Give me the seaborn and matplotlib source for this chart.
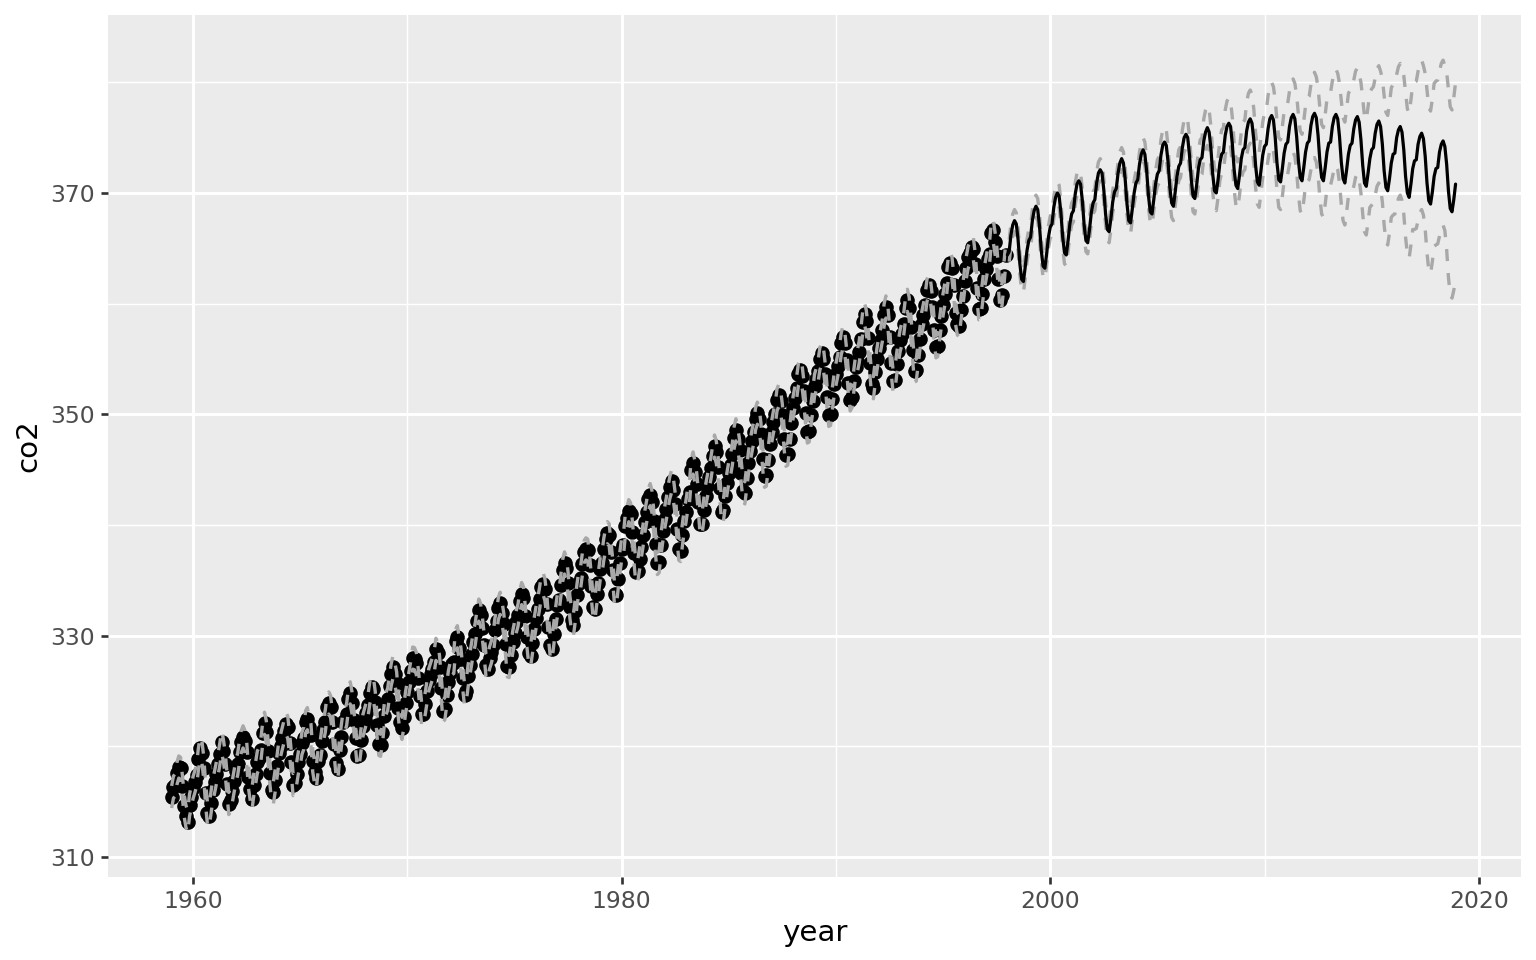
import numpy as np
import pandas as pd
import matplotlib
matplotlib.use("Agg")
import matplotlib.pyplot as plt
import seaborn as sns
from matplotlib.ticker import FixedLocator

# ---------------- data ----------------
obs_start_year = 1959   # monthly observations, Jan 1959 ...
fc_start_year = 1998    # monthly forecast, Jan 1998 ...

co2_obs = [
    315.42, 316.31, 316.50, 317.56, 318.13, 318.00, 316.39, 314.65, 313.68, 313.18, 314.66, 315.43,
    316.27, 316.81, 317.42, 318.87, 319.87, 319.43, 318.01, 315.74, 314.00, 313.68, 314.84, 316.03,
    316.73, 317.54, 318.38, 319.31, 320.42, 319.61, 318.42, 316.63, 314.83, 315.16, 315.94, 316.85,
    317.78, 318.40, 319.53, 320.42, 320.85, 320.45, 319.45, 317.25, 316.11, 315.27, 316.53, 317.53,
    318.58, 318.92, 319.70, 321.22, 322.08, 321.31, 319.58, 317.61, 316.05, 315.83, 316.91, 318.20,
    319.41, 320.07, 320.74, 321.40, 322.06, 321.73, 320.27, 318.54, 316.54, 316.71, 317.53, 318.55,
    319.27, 320.28, 320.73, 322.20, 322.50, 321.71, 321.05, 318.71, 317.66, 317.14, 318.70, 319.25,
    320.46, 321.43, 322.23, 323.54, 323.91, 323.59, 322.24, 320.20, 318.48, 317.94, 319.63, 320.87,
    322.17, 322.34, 322.88, 324.25, 324.83, 323.93, 322.38, 320.76, 319.10, 319.24, 320.56, 321.80,
    322.40, 322.99, 323.73, 324.86, 325.40, 325.20, 323.98, 321.95, 320.18, 320.09, 321.16, 322.74,
    323.83, 324.26, 325.47, 326.50, 327.21, 326.54, 325.72, 323.50, 322.22, 321.62, 322.69, 323.95,
    324.89, 325.82, 326.77, 327.97, 327.91, 327.50, 326.18, 324.53, 322.93, 322.90, 323.85, 324.96,
    326.01, 326.51, 327.01, 327.62, 328.76, 328.40, 327.20, 325.27, 323.20, 323.40, 324.63, 325.85,
    326.60, 327.47, 327.58, 329.56, 329.90, 328.92, 327.88, 326.16, 324.68, 325.04, 326.34, 327.39,
    328.37, 329.40, 330.14, 331.33, 332.31, 331.90, 330.70, 329.15, 327.35, 327.02, 327.99, 328.48,
    329.18, 330.55, 331.32, 332.48, 332.92, 332.08, 331.01, 329.23, 327.27, 327.21, 328.29, 329.41,
    330.23, 331.25, 331.87, 333.14, 333.80, 333.43, 331.73, 329.90, 328.40, 328.17, 329.32, 330.59,
    331.58, 332.39, 333.33, 334.41, 334.71, 334.17, 332.89, 330.77, 329.14, 328.78, 330.14, 331.52,
    332.75, 333.24, 334.53, 335.90, 336.57, 336.10, 334.76, 332.59, 331.42, 330.98, 332.24, 333.68,
    334.80, 335.22, 336.47, 337.59, 337.84, 337.72, 336.37, 334.51, 332.60, 332.38, 333.75, 334.78,
    336.05, 336.59, 337.79, 338.71, 339.30, 339.12, 337.56, 335.92, 333.75, 333.70, 335.12, 336.56,
    337.84, 338.19, 339.91, 340.60, 341.29, 341.00, 339.39, 337.43, 335.72, 335.84, 336.93, 338.04,
    339.06, 340.30, 341.21, 342.33, 342.74, 342.08, 340.32, 338.26, 336.52, 336.68, 338.19, 339.44,
    340.57, 341.44, 342.53, 343.39, 343.96, 343.18, 341.88, 339.65, 337.81, 337.69, 339.09, 340.32,
    341.20, 342.35, 343.01, 345.00, 345.60, 344.81, 343.74, 342.08, 340.08, 340.11, 341.33, 342.61,
    343.49, 344.29, 345.12, 346.21, 347.13, 346.59, 345.20, 343.34, 341.16, 341.34, 342.62, 343.76,
    344.72, 345.46, 346.40, 347.90, 348.60, 347.81, 346.73, 344.74, 343.11, 342.90, 344.21, 345.59,
    346.70, 347.60, 348.40, 349.60, 350.10, 349.60, 348.20, 346.00, 344.40, 344.50, 345.90, 347.30,
    348.40, 349.30, 350.00, 351.30, 351.70, 351.20, 349.90, 347.80, 346.30, 346.40, 347.80, 349.20,
    350.60, 351.50, 352.40, 353.60, 354.00, 353.50, 352.10, 350.10, 348.40, 348.50, 349.90, 351.20,
    352.60, 353.20, 353.90, 355.00, 355.50, 355.00, 353.60, 351.60, 349.90, 350.00, 351.40, 352.70,
    353.60, 354.40, 355.20, 356.40, 357.00, 356.40, 354.90, 352.80, 351.30, 351.60, 353.00, 354.30,
    354.80, 355.60, 356.80, 358.30, 359.10, 358.40, 356.90, 354.60, 352.70, 352.40, 353.80, 355.00,
    356.00, 356.70, 357.60, 359.00, 359.70, 359.00, 357.00, 354.60, 353.00, 353.10, 354.50, 355.70,
    356.70, 357.30, 358.20, 359.60, 360.30, 359.60, 357.90, 355.80, 353.90, 354.00, 355.40, 356.80,
    358.20, 359.00, 359.90, 361.20, 361.70, 361.10, 359.70, 357.60, 356.10, 356.20, 357.60, 358.90,
    359.92, 360.86, 361.83, 363.30, 363.69, 363.19, 361.64, 359.12, 358.17, 357.99, 359.45, 360.68,
    362.07, 363.24, 364.17, 364.57, 365.13, 364.92, 363.55, 361.38, 359.54, 359.58, 360.89, 362.24,
    363.09, 364.03, 364.51, 366.35, 366.64, 365.59, 364.31, 362.25, 360.29, 360.82, 362.49, 364.38,
]

fc_fit = [
    364.4, 364.7, 366.2, 367.1, 367.5, 367.2, 365.8, 363.6, 362.2, 362.0, 363.3, 364.8,
    365.7, 366.0, 367.5, 368.4, 368.8, 368.5, 367.0, 364.8, 363.4, 363.2, 364.5, 366.0,
    366.9, 367.2, 368.7, 369.6, 370.0, 369.7, 368.2, 366.0, 364.6, 364.4, 365.7, 367.2,
    368.1, 368.4, 369.9, 370.8, 371.1, 370.8, 369.3, 367.1, 365.7, 365.5, 366.7, 368.2,
    369.1, 369.4, 370.9, 371.8, 372.1, 371.8, 370.3, 368.1, 366.7, 366.5, 367.7, 369.2,
    370.1, 370.4, 371.8, 372.7, 373.1, 372.7, 371.2, 369.0, 367.5, 367.3, 368.6, 370.0,
    370.9, 371.2, 372.6, 373.5, 373.9, 373.5, 372.0, 369.8, 368.3, 368.1, 369.4, 370.8,
    371.7, 372.0, 373.4, 374.3, 374.6, 374.3, 372.8, 370.5, 369.1, 368.8, 370.1, 371.5,
    372.4, 372.7, 374.1, 375.0, 375.3, 375.0, 373.4, 371.2, 369.7, 369.5, 370.7, 372.2,
    373.0, 373.2, 374.7, 375.5, 375.9, 375.5, 374.0, 371.7, 370.2, 370.0, 371.2, 372.7,
    373.5, 373.7, 375.2, 376.0, 376.3, 376.0, 374.4, 372.1, 370.7, 370.4, 371.6, 373.1,
    373.9, 374.1, 375.6, 376.4, 376.7, 376.3, 374.8, 372.5, 371.0, 370.7, 372.0, 373.4,
    374.2, 374.4, 375.8, 376.7, 377.0, 376.6, 375.0, 372.7, 371.2, 371.0, 372.2, 373.6,
    374.4, 374.6, 376.0, 376.8, 377.1, 376.7, 375.1, 372.9, 371.4, 371.1, 372.3, 373.7,
    374.5, 374.7, 376.1, 376.9, 377.2, 376.8, 375.2, 372.9, 371.4, 371.1, 372.3, 373.7,
    374.5, 374.6, 376.0, 376.8, 377.1, 376.7, 375.1, 372.8, 371.3, 370.9, 372.1, 373.5,
    374.3, 374.5, 375.8, 376.6, 376.9, 376.4, 374.8, 372.5, 370.9, 370.6, 371.8, 373.1,
    373.9, 374.1, 375.4, 376.2, 376.5, 376.0, 374.4, 372.0, 370.5, 370.2, 371.3, 372.7,
    373.5, 373.6, 375.0, 375.7, 376.0, 375.5, 373.9, 371.5, 370.0, 369.6, 370.8, 372.2,
    372.9, 373.0, 374.4, 375.1, 375.4, 374.9, 373.3, 370.9, 369.3, 369.0, 370.1, 371.5,
    372.2, 372.3, 373.7, 374.4, 374.7, 374.2, 372.6, 370.2, 368.6, 368.3, 369.4, 370.8,
]

fc_upper = [
    365.4, 365.7, 367.2, 368.1, 368.5, 368.2, 366.8, 364.6, 363.2, 363.0, 364.3, 365.8,
    366.7, 367.0, 368.5, 369.4, 369.8, 369.5, 368.0, 365.8, 364.4, 364.2, 365.5, 367.0,
    367.9, 368.2, 369.7, 370.6, 371.0, 370.7, 369.2, 367.0, 365.6, 365.4, 366.7, 368.2,
    369.1, 369.4, 370.9, 371.8, 372.1, 371.8, 370.3, 368.1, 366.7, 366.5, 367.7, 369.2,
    370.1, 370.4, 371.9, 372.8, 373.1, 372.8, 371.3, 369.1, 367.7, 367.5, 368.7, 370.2,
    371.1, 371.4, 372.8, 373.7, 374.1, 373.7, 372.3, 370.1, 368.6, 368.4, 369.7, 371.1,
    372.0, 372.3, 373.7, 374.6, 375.0, 374.6, 373.2, 371.0, 369.5, 369.3, 370.6, 372.0,
    373.0, 373.3, 374.8, 375.7, 376.0, 375.7, 374.2, 371.8, 370.4, 370.1, 371.4, 372.8,
    373.9, 374.2, 375.7, 376.6, 376.9, 376.6, 375.0, 372.8, 371.3, 371.1, 372.3, 373.8,
    374.8, 375.0, 376.7, 377.5, 377.9, 377.5, 376.0, 373.7, 372.2, 372.0, 373.2, 374.7,
    375.7, 375.9, 377.5, 378.3, 378.6, 378.3, 376.8, 374.5, 373.1, 372.8, 374.0, 375.5,
    376.4, 376.6, 378.2, 379.0, 379.3, 378.9, 377.6, 375.5, 374.0, 373.7, 375.0, 376.4,
    377.2, 377.4, 378.8, 379.7, 380.0, 379.6, 378.4, 376.5, 375.0, 374.8, 376.0, 377.4,
    377.9, 378.1, 379.2, 380.0, 380.3, 379.9, 378.8, 377.1, 375.6, 375.3, 376.5, 377.9,
    378.5, 378.7, 379.8, 380.6, 380.9, 380.5, 379.5, 377.7, 376.2, 375.9, 377.1, 378.5,
    379.0, 379.1, 380.1, 380.9, 381.2, 380.8, 379.9, 378.3, 376.8, 376.4, 377.6, 379.0,
    379.3, 379.5, 380.2, 381.0, 381.3, 380.8, 380.0, 378.5, 376.9, 376.6, 377.8, 379.1,
    379.4, 379.6, 380.4, 381.2, 381.5, 381.0, 380.3, 378.8, 377.3, 377.0, 378.1, 379.5,
    379.8, 379.9, 380.7, 381.4, 381.7, 381.2, 380.6, 379.1, 377.6, 377.2, 378.4, 379.8,
    380.0, 380.1, 381.0, 381.7, 382.0, 381.5, 380.8, 379.3, 377.7, 377.4, 378.5, 379.9,
    380.1, 380.2, 381.0, 381.7, 382.0, 381.5, 380.9, 379.4, 377.8, 377.5, 378.6, 380.0,
]

fc_lower = [
    363.4, 363.7, 365.2, 366.1, 366.5, 366.2, 364.8, 362.6, 361.2, 361.0, 362.3, 363.8,
    364.7, 365.0, 366.5, 367.4, 367.8, 367.5, 366.0, 363.8, 362.4, 362.2, 363.5, 365.0,
    365.9, 366.2, 367.7, 368.6, 369.0, 368.7, 367.2, 365.0, 363.6, 363.4, 364.7, 366.2,
    367.1, 367.4, 368.9, 369.8, 370.1, 369.8, 368.3, 366.1, 364.7, 364.5, 365.7, 367.2,
    368.1, 368.4, 369.9, 370.8, 371.1, 370.8, 369.3, 367.1, 365.7, 365.5, 366.7, 368.2,
    369.1, 369.4, 370.8, 371.7, 372.1, 371.7, 370.2, 368.0, 366.5, 366.3, 367.6, 369.0,
    369.9, 370.2, 371.6, 372.5, 372.9, 372.5, 371.0, 368.8, 367.3, 367.1, 368.4, 369.8,
    370.6, 370.9, 372.2, 373.1, 373.4, 373.1, 371.6, 369.2, 367.8, 367.5, 368.8, 370.2,
    371.1, 371.4, 372.8, 373.7, 374.0, 373.7, 372.1, 369.8, 368.3, 368.1, 369.3, 370.8,
    371.5, 371.7, 373.1, 373.9, 374.3, 373.9, 372.4, 370.1, 368.6, 368.4, 369.6, 371.1,
    371.8, 372.0, 373.4, 374.2, 374.5, 374.2, 372.6, 370.3, 368.9, 368.6, 369.8, 371.3,
    371.9, 372.1, 373.4, 374.2, 374.5, 374.1, 372.7, 370.5, 369.0, 368.7, 370.0, 371.4,
    371.8, 372.0, 373.0, 373.9, 374.2, 373.8, 372.4, 370.2, 368.7, 368.5, 369.7, 371.1,
    371.5, 371.7, 372.6, 373.4, 373.7, 373.3, 371.9, 369.9, 368.4, 368.1, 369.3, 370.7,
    371.0, 371.2, 372.1, 372.9, 373.2, 372.8, 371.6, 369.6, 368.1, 367.8, 369.0, 370.4,
    370.6, 370.7, 371.4, 372.2, 372.5, 372.1, 370.9, 369.0, 367.5, 367.1, 368.3, 369.7,
    369.8, 370.0, 370.6, 371.4, 371.7, 371.2, 370.0, 368.1, 366.5, 366.2, 367.4, 368.7,
    368.9, 369.1, 369.8, 370.6, 370.9, 370.4, 369.2, 367.1, 365.6, 365.3, 366.4, 367.8,
    368.0, 368.1, 368.8, 369.5, 369.8, 369.3, 368.1, 366.0, 364.5, 364.1, 365.3, 366.7,
    366.7, 366.8, 367.5, 368.2, 368.5, 368.0, 366.7, 364.6, 363.0, 362.7, 363.8, 365.2,
    365.3, 365.4, 366.1, 366.8, 367.1, 366.6, 364.9, 362.4, 360.8, 360.5, 361.2, 362.2,
]

hist_band_halfwidth = 1.0

x_major_ticks = [1960, 1980, 2000, 2020]
x_minor_ticks = [1970, 1990, 2010]
y_major_ticks = [310, 330, 350, 370]
y_minor_ticks = [320, 340, 360, 380]
x_label = "year"
y_label = "co2"

# ---------------- assemble frames ----------------
obs = np.array(co2_obs)
t_obs = obs_start_year + np.arange(len(obs)) / 12.0
t_fc = fc_start_year + np.arange(len(fc_fit)) / 12.0

df_obs = pd.DataFrame({"year": t_obs, "co2": obs})
df_fit = pd.DataFrame({"year": t_fc, "co2": fc_fit})
df_up = pd.DataFrame({"year": np.concatenate([t_obs, t_fc]),
                      "co2": np.concatenate([obs + hist_band_halfwidth, fc_upper])})
df_lo = pd.DataFrame({"year": np.concatenate([t_obs, t_fc]),
                      "co2": np.concatenate([obs - hist_band_halfwidth, fc_lower])})

# ---------------- style ----------------
sns.set_theme(style="darkgrid")
plt.rcParams["font.family"] = ["DejaVu Sans"]

fig = plt.figure(figsize=(8, 5), dpi=192)
W, H = 1536.0, 960.0
left, right, top, bottom = 108, 1521, 15, 877
ax = fig.add_axes([left / W, 1 - bottom / H, (right - left) / W, (bottom - top) / H])
ax.set_facecolor("#EBEBEB")
fig.patch.set_facecolor("white")

sns.scatterplot(data=df_obs, x="year", y="co2", color="black", s=30,
                linewidth=0, ax=ax, zorder=2, legend=False)
dash_kw = dict(color="#A8A8A8", linewidth=1.25, linestyle=(0, (3.6, 3.6)),
               estimator=None, sort=False, ax=ax, legend=False)
sns.lineplot(data=df_up, x="year", y="co2", zorder=3, **dash_kw)
sns.lineplot(data=df_lo, x="year", y="co2", zorder=3, **dash_kw)
sns.lineplot(data=df_fit, x="year", y="co2", color="black", linewidth=1.2,
             estimator=None, sort=False, ax=ax, zorder=4, legend=False)

ax.set_xlim(1956.03, 2021.97)
ax.set_ylim(308.19, 386.08)
ax.xaxis.set_major_locator(FixedLocator(x_major_ticks))
ax.xaxis.set_minor_locator(FixedLocator(x_minor_ticks))
ax.yaxis.set_major_locator(FixedLocator(y_major_ticks))
ax.yaxis.set_minor_locator(FixedLocator(y_minor_ticks))
ax.set_xticklabels([str(v) for v in x_major_ticks])
ax.set_yticklabels([str(v) for v in y_major_ticks])

ax.grid(which="major", color="white", linewidth=1.1)
ax.grid(which="minor", color="white", linewidth=0.55)
ax.set_axisbelow(True)
for s in ax.spines.values():
    s.set_visible(False)

ax.tick_params(axis="both", which="major", bottom=True, left=True, length=2.75,
               width=1.0, color="#333333", labelsize=8.8, labelcolor="#4D4D4D", pad=2.2)
ax.tick_params(axis="both", which="minor", bottom=False, left=False, length=0)

ax.set_xlabel(x_label, fontsize=11, color="black", labelpad=2.0)
ax.set_ylabel(y_label, fontsize=11, color="black", labelpad=3.0)

fig.savefig("out.png", dpi=192)
